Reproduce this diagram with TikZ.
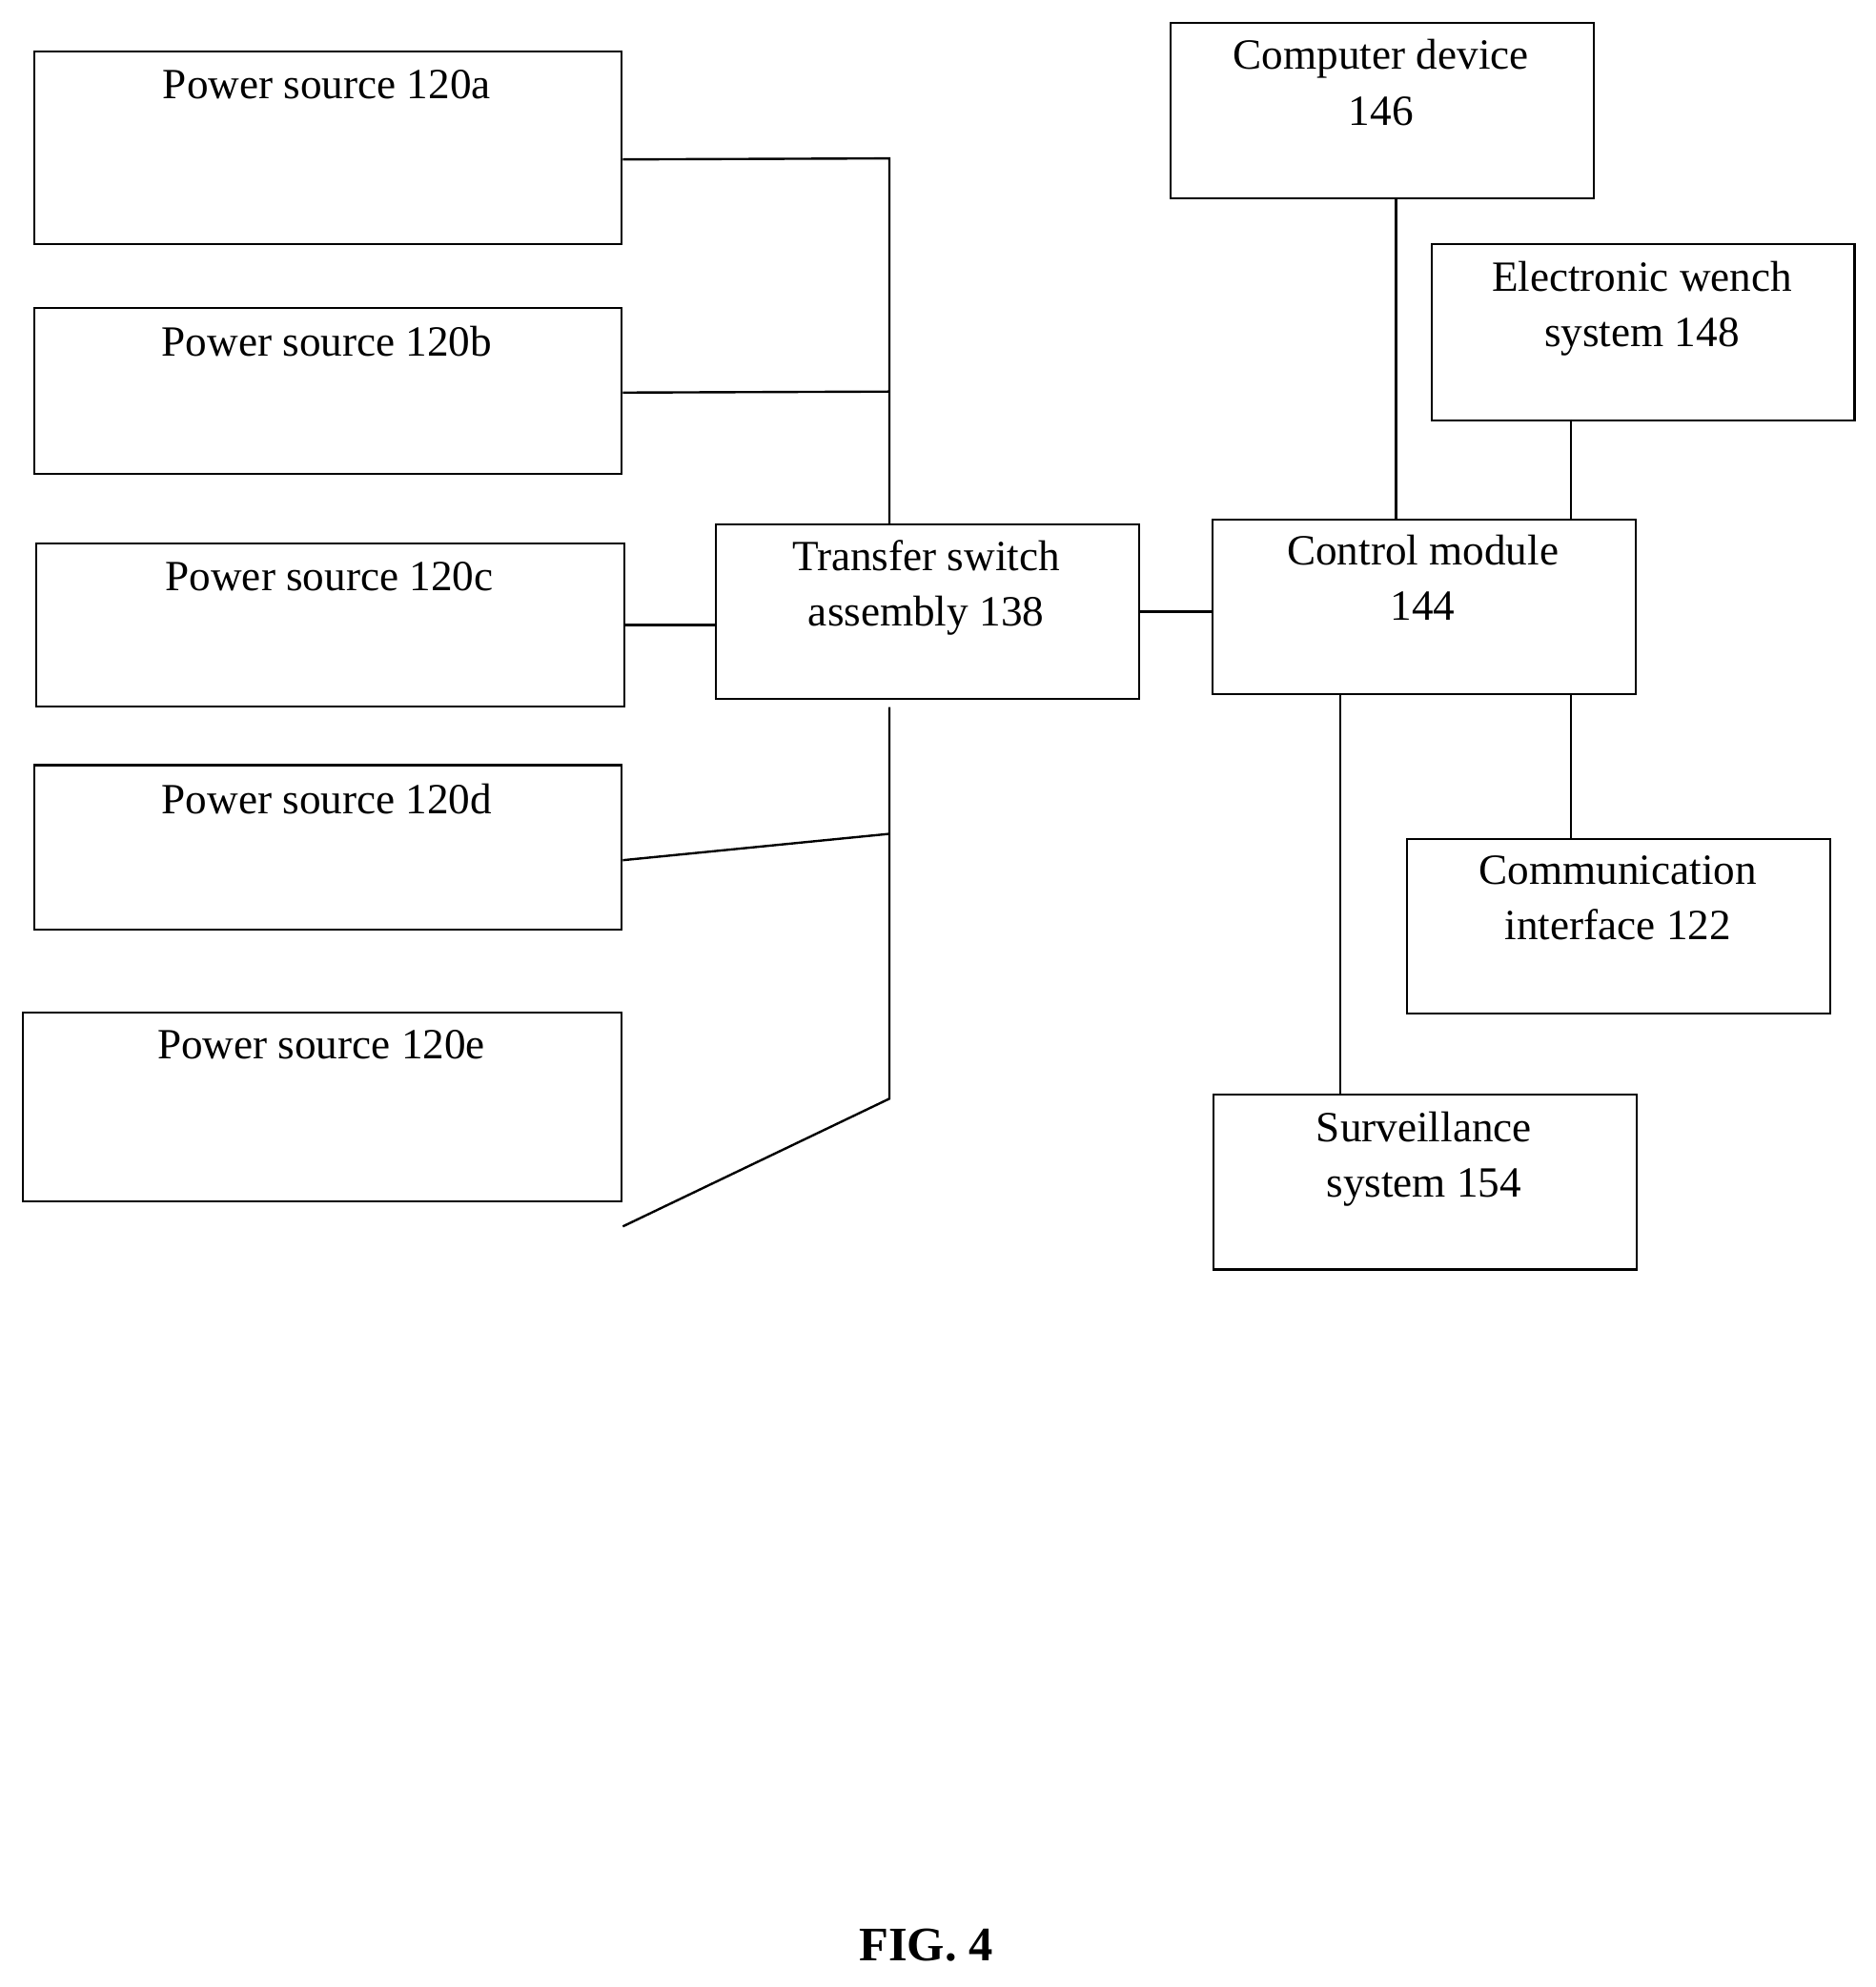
\documentclass[tikz,border=0pt]{standalone}
\usepackage{fontspec}
\setmainfont{Liberation Serif}
\begin{document}
\begin{tikzpicture}[x=1pt,y=-1pt,
 box/.style={draw,line width=1.6pt,rectangle,anchor=north west,inner sep=0pt},
 txt/.style={font=\fontsize{34}{44}\selectfont,align=center,anchor=north,inner sep=0pt},
 ln/.style={line width=1.8pt}]
\useasboundingbox (0,0) rectangle (1480,1568);
\newcommand{\bx}[7]{\node[box,minimum width=#4-#2,minimum height=#5-#3] (#1) at (#2,#3) {};
 \node[txt] (#1t) at ({(#2+#4)/2},#6) {#7};}
\bx{pa}{26}{40}{490}{192}{55}{Power source 120a}
\bx{pb}{26}{242}{490}{373}{257}{Power source 120b}
\bx{pc}{28}{428}{492}{557}{443}{Power source 120c}
\bx{pd}{26}{603}{490}{733}{618}{Power source 120d}
\bx{pe}{17}{798}{490}{947}{813}{Power source 120e}
\bx{ts}{564}{413}{898}{551}{426}{Transfer switch\\assembly 138}
\bx{cm}{956}{409}{1290}{547}{422}{Control module\\144}
\bx{cd}{923}{17}{1257}{156}{31}{Computer device\\146}
\bx{ew}{1129}{192}{1463}{331}{206}{Electronic wench\\system 148}
\bx{ci}{1110}{661}{1444}{799}{675}{Communication\\interface 122}
\bx{sv}{957}{863}{1291}{1001}{877}{Surveillance\\system 154}
\node[font=\bfseries\fontsize{38}{44}\selectfont] (fig) at (731,1535) {FIG. 4};
\coordinate (bt) at (702,125);
\coordinate (bb) at (702,867);
\coordinate (tt) at (702,413);
\coordinate (tb) at (702,558);
\draw[ln] ([yshift=-9pt]pa.east) -- (bt) -- (tt);
\draw[ln] ([yshift=-1.5pt]pb.east) -- (702,309);
\draw[ln] (pc.east) -- (pc.east -| ts.west);
\draw[ln] (tb) -- (bb) -- ([yshift=-94.5pt]pe.east);
\draw[ln] ([yshift=-10pt]pd.east) -- (702,658);
\draw[ln] (ts.east) -- (ts.east -| cm.west);
\draw[ln] (1102,156) -- (1102,409);
\draw[ln] (1240,331) -- (1240,409);
\draw[ln] (1240,547) -- (1240,661);
\draw[ln] (1058,547) -- (1058,863);
\end{tikzpicture}
\end{document}
